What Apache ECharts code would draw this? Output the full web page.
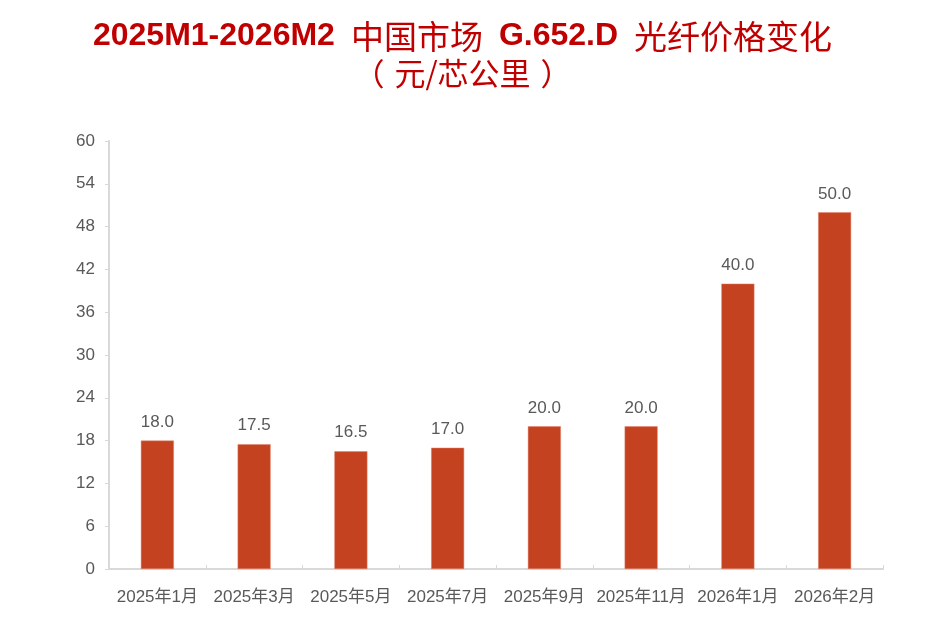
<!DOCTYPE html>
<html>
<head>
<meta charset="utf-8">
<script src="https://cdn.jsdelivr.net/npm/echarts@6/dist/echarts.min.js"></script>
<style>
html, body { margin: 0; padding: 0; background: #fff; }
#chart { width: 925px; height: 617px; }
</style>
</head>
<body>
<div id="chart"></div>
<script>
// 月份
const categories = ['2025年1月', '2025年3月', '2025年5月', '2025年7月', '2025年9月', '2025年11月', '2026年1月', '2026年2月'];
// 价格（元/芯公里）
const prices = [18.0, 17.5, 16.5, 17.0, 20.0, 20.0, 40.0, 50.0];

const latin = '"Liberation Sans", Arial, sans-serif';
const cjk = '"Noto Sans CJK SC", sans-serif';

const chart = echarts.init(document.getElementById('chart'));

const option = {
    backgroundColor: '#fff',
    title: {
        text: '{a|2025M1-2026M2}{s| }{b|中国市场}{s| }{a|G.652.D}{s| }{b|光纤价格变化}',
        subtext: '{pl|（}{c|元/芯公里}{pr|）}',
        left: 'center',
        top: 15,
        itemGap: 5,
        textStyle: {
            rich: {
                a: { fontFamily: latin, fontSize: 32, fontWeight: 'bold', color: '#C00000' },
                b: { fontFamily: cjk, fontSize: 33, fontWeight: 'normal', color: '#C00000' },
                s: { fontSize: 31, width: 16 }
            }
        },
        subtextStyle: {
            rich: {
                c: { fontFamily: cjk, fontSize: 31, color: '#C00000' },
                pl: { fontFamily: cjk, fontSize: 31, color: '#C00000', padding: [0, 10, 0, 0] },
                pr: { fontFamily: cjk, fontSize: 31, color: '#C00000', padding: [0, 0, 0, 10] }
            }
        }
    },
    grid: {
        left: 109,
        right: 42,
        top: 141,
        bottom: 48
    },
    xAxis: {
        type: 'category',
        data: categories,
        axisLine: { lineStyle: { color: '#D9D9D9', width: 2 } },
        axisTick: { show: true, inside: true, length: 4, lineStyle: { color: '#D9D9D9' } },
        axisLabel: {
            interval: 0,
            color: '#595959',
            fontSize: 17,
            margin: 20,
            fontFamily: '"Liberation Sans", Arial, "Noto Sans CJK SC", sans-serif'
        }
    },
    yAxis: {
        type: 'value',
        min: 0,
        max: 60,
        interval: 6,
        axisLine: { show: true, lineStyle: { color: '#D9D9D9', width: 2 } },
        axisTick: { show: true, length: 4, lineStyle: { color: '#D9D9D9' } },
        splitLine: { show: false },
        axisLabel: {
            color: '#595959',
            fontSize: 17,
            margin: 14,
            fontFamily: latin
        }
    },
    series: [
        {
            type: 'bar',
            data: prices,
            barWidth: 33,
            itemStyle: {
                color: '#C4421F',
                borderColor: '#E0826A',
                borderWidth: 0.5
            },
            label: {
                show: true,
                position: 'top',
                distance: 10,
                color: '#595959',
                fontSize: 17,
                fontFamily: latin,
                formatter: p => p.value.toFixed(1)
            }
        }
    ]
};

chart.setOption(option);
window.addEventListener('resize', () => chart.resize());
</script>
</body>
</html>
